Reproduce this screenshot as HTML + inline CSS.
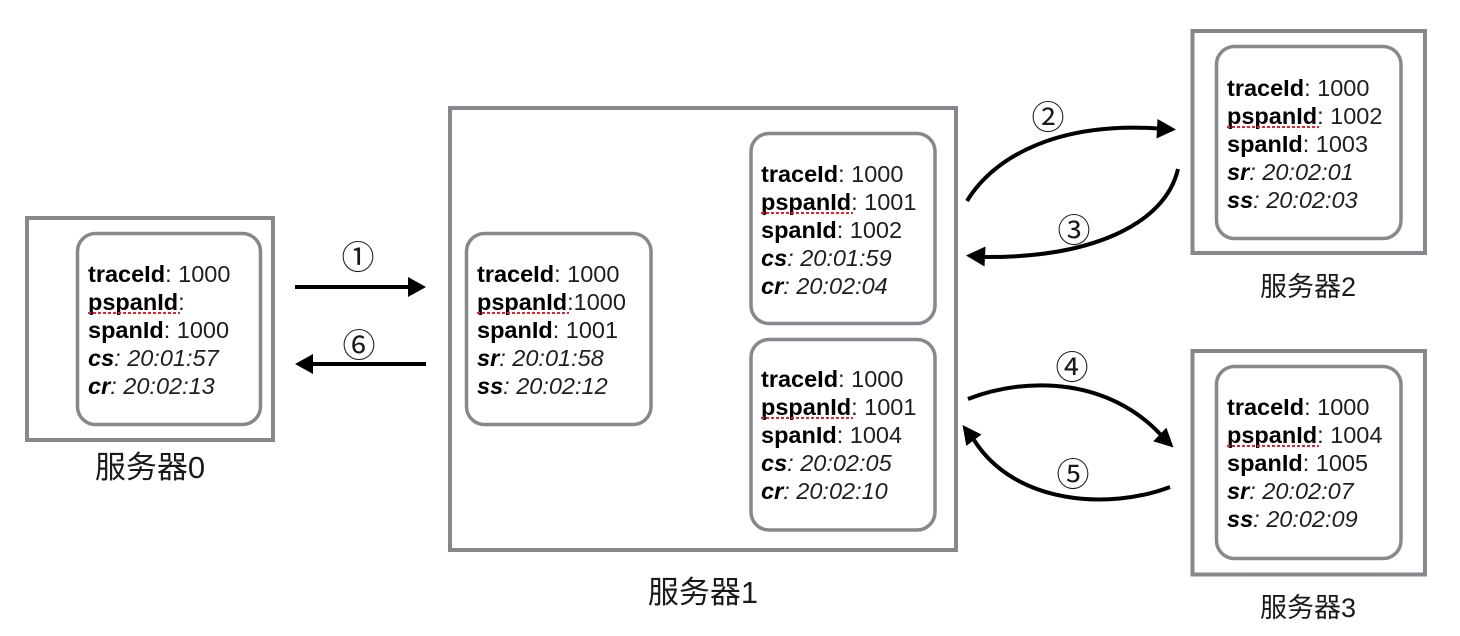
<!DOCTYPE html>
<html>
<head>
<meta charset="utf-8">
<style>
  html, body { margin: 0; padding: 0; background: #ffffff; }
  body { width: 1460px; height: 636px; overflow: hidden; }
  svg { display: block; }
  .t { font-family: "Liberation Sans", Arial, sans-serif; font-size: 23.5px; fill: #1e1e1e; }
  .b { font-weight: 700; fill: #000; }
  .i { font-style: italic; }
  .lbl { font-family: "Liberation Sans", "Noto Sans CJK SC", sans-serif; fill: #1a1a1a; }
  .num { font-family: "Noto Sans CJK SC", "DejaVu Sans", sans-serif; font-size: 33px; fill: #1a1a1a; }
  .box { fill: none; stroke: #86888c; stroke-width: 4; }
  .ibox { fill: #fff; stroke: #86888c; stroke-width: 3.5; }
  .red { stroke: #e8202a; stroke-width: 2; stroke-dasharray: 3 2; }
  .arr { fill: none; stroke: #000; stroke-width: 4; }
</style>
</head>
<body>
<svg width="1460" height="636" viewBox="0 0 1460 636" xmlns="http://www.w3.org/2000/svg">

  <!-- Server 0 -->
  <rect class="box" x="27" y="218" width="246" height="222"/>
  <rect class="ibox" x="77.5" y="233.5" width="183" height="191" rx="18" ry="18"/>
  <text class="t" x="88" y="282"><tspan class="b">traceId</tspan>: 1000</text>
  <text class="t" x="88" y="310"><tspan class="b">pspanId</tspan>:</text>
  <line class="red" x1="88" y1="313" x2="180" y2="313"/>
  <text class="t" x="88" y="338"><tspan class="b">spanId</tspan>: 1000</text>
  <text class="t i" x="88" y="366"><tspan class="b">cs</tspan>: 20:01:57</text>
  <text class="t i" x="88" y="394"><tspan class="b">cr</tspan>: 20:02:13</text>
  <text class="lbl" x="150" y="478" font-size="31" text-anchor="middle">服务器0</text>

  <!-- Arrows 1 and 6 -->
  <line class="arr" x1="295" y1="287" x2="410" y2="287"/>
  <polygon points="426,287 408,277 408,297" fill="#000"/>
  <text class="num" x="358" y="255" text-anchor="middle" dominant-baseline="central">①</text>

  <line class="arr" x1="311" y1="364" x2="426" y2="364"/>
  <polygon points="295,364 313,354 313,374" fill="#000"/>
  <text class="num" x="359" y="343" text-anchor="middle" dominant-baseline="central">⑥</text>

  <!-- Server 1 -->
  <rect class="box" x="450" y="108" width="506" height="442"/>
  <rect class="ibox" x="466.5" y="233.5" width="184.5" height="191" rx="18" ry="18"/>
  <text class="t" x="477" y="282"><tspan class="b">traceId</tspan>: 1000</text>
  <text class="t" x="477" y="310"><tspan class="b">pspanId</tspan>:1000</text>
  <line class="red" x1="477" y1="313" x2="569" y2="313"/>
  <text class="t" x="477" y="338"><tspan class="b">spanId</tspan>: 1001</text>
  <text class="t i" x="477" y="366"><tspan class="b">sr</tspan>: 20:01:58</text>
  <text class="t i" x="477" y="394"><tspan class="b">ss</tspan>: 20:02:12</text>

  <rect class="ibox" x="751" y="133.5" width="184" height="190" rx="18" ry="18"/>
  <text class="t" x="761" y="182"><tspan class="b">traceId</tspan>: 1000</text>
  <text class="t" x="761" y="210"><tspan class="b">pspanId</tspan>: 1001</text>
  <line class="red" x1="761" y1="213" x2="853" y2="213"/>
  <text class="t" x="761" y="238"><tspan class="b">spanId</tspan>: 1002</text>
  <text class="t i" x="761" y="266"><tspan class="b">cs</tspan>: 20:01:59</text>
  <text class="t i" x="761" y="294"><tspan class="b">cr</tspan>: 20:02:04</text>

  <rect class="ibox" x="751" y="339.5" width="184" height="190.5" rx="18" ry="18"/>
  <text class="t" x="761" y="387"><tspan class="b">traceId</tspan>: 1000</text>
  <text class="t" x="761" y="415"><tspan class="b">pspanId</tspan>: 1001</text>
  <line class="red" x1="761" y1="418" x2="853" y2="418"/>
  <text class="t" x="761" y="443"><tspan class="b">spanId</tspan>: 1004</text>
  <text class="t i" x="761" y="471"><tspan class="b">cs</tspan>: 20:02:05</text>
  <text class="t i" x="761" y="499"><tspan class="b">cr</tspan>: 20:02:10</text>

  <text class="lbl" x="703" y="603" font-size="31" text-anchor="middle">服务器1</text>

  <!-- Arrows 2 and 3 -->
  <path class="arr" d="M967,201 C995,155 1060,122 1158,128.5"/>
  <polygon points="1176,129.5 1157.5,119 1156.5,138.5" fill="#000"/>
  <text class="num" x="1048" y="115" text-anchor="middle" dominant-baseline="central">②</text>

  <path class="arr" d="M1178,169 C1165,225 1090,258 984,257"/>
  <polygon points="966,255.5 985.5,246.5 984.5,266.5" fill="#000"/>
  <text class="num" x="1074" y="228" text-anchor="middle" dominant-baseline="central">③</text>

  <!-- Arrows 4 and 5 -->
  <path class="arr" d="M968,399 C1030,375 1110,380 1161,435"/>
  <polygon points="1173.5,447.5 1166.4,427.6 1153.2,441.2" fill="#000"/>
  <text class="num" x="1072" y="365" text-anchor="middle" dominant-baseline="central">④</text>

  <path class="arr" d="M1170,487 C1110,510 1015,505 974,440"/>
  <polygon points="962.5,425 981.5,434.5 966.3,445.9" fill="#000"/>
  <text class="num" x="1073" y="472" text-anchor="middle" dominant-baseline="central">⑤</text>

  <!-- Server 2 -->
  <rect class="box" x="1192.5" y="31" width="232.5" height="222"/>
  <rect class="ibox" x="1216.5" y="46.5" width="184.5" height="192" rx="18" ry="18"/>
  <text class="t" x="1227" y="96"><tspan class="b">traceId</tspan>: 1000</text>
  <text class="t" x="1227" y="124"><tspan class="b">pspanId</tspan>: 1002</text>
  <line class="red" x1="1227" y1="127" x2="1319" y2="127"/>
  <text class="t" x="1227" y="152"><tspan class="b">spanId</tspan>: 1003</text>
  <text class="t i" x="1227" y="180"><tspan class="b">sr</tspan>: 20:02:01</text>
  <text class="t i" x="1227" y="208"><tspan class="b">ss</tspan>: 20:02:03</text>
  <text class="lbl" x="1308" y="296" font-size="27" text-anchor="middle">服务器2</text>

  <!-- Server 3 -->
  <rect class="box" x="1192.5" y="351" width="232.5" height="223.5"/>
  <rect class="ibox" x="1216.5" y="366.5" width="184.5" height="192" rx="18" ry="18"/>
  <text class="t" x="1227" y="415"><tspan class="b">traceId</tspan>: 1000</text>
  <text class="t" x="1227" y="443"><tspan class="b">pspanId</tspan>: 1004</text>
  <line class="red" x1="1227" y1="446" x2="1319" y2="446"/>
  <text class="t" x="1227" y="471"><tspan class="b">spanId</tspan>: 1005</text>
  <text class="t i" x="1227" y="499"><tspan class="b">sr</tspan>: 20:02:07</text>
  <text class="t i" x="1227" y="527"><tspan class="b">ss</tspan>: 20:02:09</text>
  <text class="lbl" x="1308" y="617" font-size="27" text-anchor="middle">服务器3</text>

</svg>
</body>
</html>
